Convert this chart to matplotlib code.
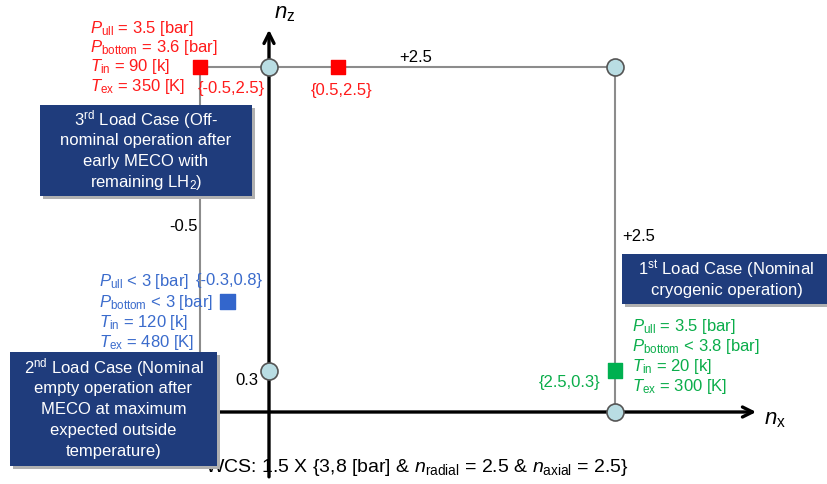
import matplotlib
matplotlib.use("Agg")
import matplotlib.pyplot as plt
from matplotlib.patches import Rectangle
from matplotlib.transforms import Affine2D

plt.rcParams['font.family'] = ['Liberation Sans', 'DejaVu Sans']
plt.rcParams['mathtext.fontset'] = 'custom'
plt.rcParams['mathtext.rm'] = 'Liberation Sans'
plt.rcParams['mathtext.it'] = 'Liberation Sans:italic'
plt.rcParams['mathtext.bf'] = 'Liberation Sans:bold'

# load envelope (nx, nz)
nx_min, nx_max = -0.5, 2.5
nz_max = 2.5

# reference points on the envelope (circles)
ref_nx = [0, 2.5, 0, 2.5]
ref_nz = [2.5, 2.5, 0.3, 0]

# load case points (squares)
case_nx = [-0.5, 0.5, -0.3, 2.5]
case_nz = [2.5, 2.5, 0.8, 0.3]
case_colors = ['#ff0000', '#ff0000', '#3366cc', '#00b050']
case_labels = ['{-0.5,2.5}', '{0.5,2.5}', '{-0.3,0.8}', '{2.5,0.3}']

RED = '#ff1a1a'
BLUE = '#3a6bcc'
GREEN = '#0aad4a'
NAVY = '#1f3c7c'

W, H = 828, 485
OX, OY = 269, 413      # pixel position of the origin
SX, SY = 138.4, 138.0  # pixels per unit load factor

fig = plt.figure(figsize=(W / 100, H / 100), dpi=100)
ax = fig.add_axes([0, 0, 1, 1])
ax.set_xlim(-OX / SX, (W - OX) / SX)
ax.set_ylim((OY - H) / SY, OY / SY)
ax.axis('off')

# pixel transform for annotations (y from top)
pix = Affine2D().scale(1 / W, -1 / H).translate(0, 1) + fig.transFigure

# envelope (grey)
ax.plot([nx_min, nx_min, nx_max, nx_max], [-0.3, nz_max, nz_max, 0],
        color='#8c8c8c', lw=1.5, zorder=1)

# axes with arrows
ax.annotate('', xy=(3.52, 0), xytext=(-0.9, 0),
            arrowprops=dict(arrowstyle='->', lw=2.4, color='black', mutation_scale=18,
                            shrinkA=0, shrinkB=0), zorder=2)
ax.annotate('', xy=(0, 2.77), xytext=(0, -0.47),
            arrowprops=dict(arrowstyle='->', lw=2.4, color='black', mutation_scale=18,
                            shrinkA=0, shrinkB=0), zorder=2)

ax.scatter(ref_nx, ref_nz, s=150, marker='o', facecolor='#b9dde3',
           edgecolor='#555555', lw=1.2, zorder=4)
ax.scatter(case_nx, case_nz, s=110, marker='s', c=case_colors, zorder=4)

fs = 12
ax.text(764, 420, r'$n_{\mathrm{x}}$', transform=pix, fontsize=16, va='center', ha='left')
ax.text(274, 14, r'$n_{\mathrm{z}}$', transform=pix, fontsize=16, va='center', ha='left')

ax.text(416, 58, '+2.5', transform=pix, fontsize=fs, va='center', ha='center')
ax.text(622, 237, '+2.5', transform=pix, fontsize=fs, va='center', ha='left')
ax.text(184, 227, '-0.5', transform=pix, fontsize=fs, va='center', ha='center')
ax.text(258, 381, '0.3', transform=pix, fontsize=fs, va='center', ha='right')

# point labels
ax.text(231, 88, case_labels[0], transform=pix, fontsize=fs, color=RED, va='center', ha='center')
ax.text(342, 90, case_labels[1], transform=pix, fontsize=fs, color=RED, va='center', ha='center')
ax.text(229, 281, case_labels[2], transform=pix, fontsize=fs, color=BLUE, va='center', ha='center')
ax.text(600, 383, case_labels[3], transform=pix, fontsize=fs, color=GREEN, va='center', ha='right')

red_lines = [r'$P_{\mathrm{ull}}$ = 3.5 [bar]', r'$P_{\mathrm{bottom}}$ = 3.6 [bar]',
             r'$T_{\mathrm{in}}$ = 90 [k]', r'$T_{\mathrm{ex}}$ = 350 [K]']
blue_lines = [r'$P_{\mathrm{ull}}$ < 3 [bar]', r'$P_{\mathrm{bottom}}$ < 3 [bar]',
              r'$T_{\mathrm{in}}$ = 120 [k]', r'$T_{\mathrm{ex}}$ = 480 [K]']
green_lines = [r'$P_{\mathrm{ull}}$ = 3.5 [bar]', r'$P_{\mathrm{bottom}}$ < 3.8 [bar]',
               r'$T_{\mathrm{in}}$ = 20 [k]', r'$T_{\mathrm{ex}}$ = 300 [K]']

for i, s in enumerate(red_lines):
    ax.text(90, 28 + 19.5 * i, s, transform=pix, fontsize=fs, color=RED, va='center', ha='left')
for i, s in enumerate(blue_lines):
    ax.text(99, 282 + 20.3 * i, s, transform=pix, fontsize=fs, color=BLUE, va='center', ha='left')
for i, s in enumerate(green_lines):
    ax.text(632, 327 + 20 * i, s, transform=pix, fontsize=fs, color=GREEN, va='center', ha='left')


def load_box(x0, y0, x1, y1, lines, dy=21):
    ax.add_patch(Rectangle((x0 + 3, y0 + 3), x1 - x0, y1 - y0, transform=pix,
                           facecolor='#b0b0b0', edgecolor='none', zorder=5))
    ax.add_patch(Rectangle((x0, y0), x1 - x0, y1 - y0, transform=pix,
                           facecolor=NAVY, edgecolor='none', zorder=6))
    cx = (x0 + x1) / 2
    cy = (y0 + y1) / 2 - dy * (len(lines) - 1) / 2
    for i, s in enumerate(lines):
        ax.text(cx, cy + dy * i, s, transform=pix, fontsize=12, color='white',
                va='center', ha='center', zorder=7)


load_box(40, 106, 252, 197, [r'3$^{\mathrm{rd}}$ Load Case (Off-', 'nominal operation after',
                             'early MECO with', r'remaining LH$_{\mathrm{2}}$)'])
load_box(10, 353, 217, 467, [r'2$^{\mathrm{nd}}$ Load Case (Nominal', 'empty operation after',
                             'MECO at maximum', 'expected outside', 'temperature)'])
load_box(622, 255, 831, 305, [r'1$^{\mathrm{st}}$ Load Case (Nominal', 'cryogenic operation)'])

ax.text(205, 468, r'WCS: 1.5 X {3,8 [bar] & $n_{\mathrm{radial}}$ = 2.5 & $n_{\mathrm{axial}}$ = 2.5}',
        transform=pix, fontsize=14, va='center', ha='left', zorder=3)

fig.savefig('out.png', dpi=100)
